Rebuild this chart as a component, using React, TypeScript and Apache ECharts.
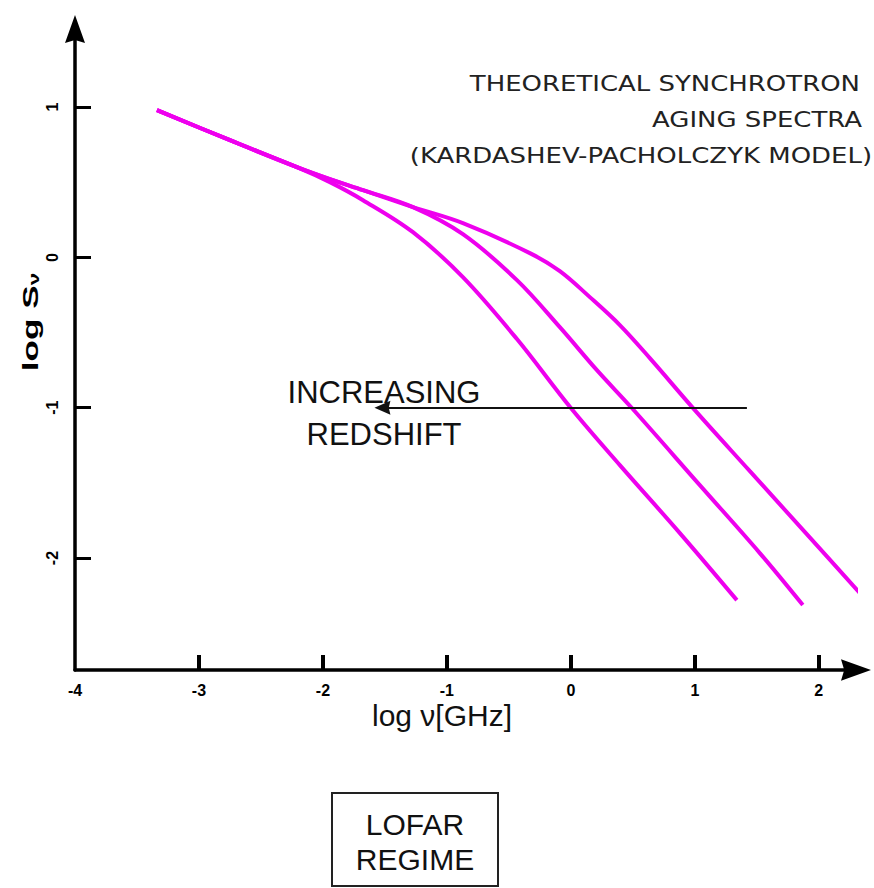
import React, { useEffect, useRef } from "react";
import * as echarts from "echarts";

// ---- data ----
const xLabelValues = [-4, -3, -2, -1, 0, 1, 2];
const xTickValues = [-3, -2, -1, 0, 1, 2];
const yTickValues = [1, 0, -1, -2];

// shared low-frequency power-law part (log nu, log S)
const sharedPart: number[][] = [
  [-3.339, 0.98],
  [-2.75, 0.78],
  [-2.21, 0.601],
];
// part shared by the two higher-break spectra
const sharedAB: number[][] = [
  [-1.944, 0.521],
  [-1.677, 0.448],
  [-1.274, 0.335],
];
const spectrumA: number[][] = [
  [-0.871, 0.228],
  [-0.331, 0.029],
  [-0.089, -0.091],
  [0.153, -0.264],
  [0.395, -0.45],
  [0.637, -0.67],
  [1.0, -1.016],
  [1.444, -1.422],
  [1.903, -1.841],
  [2.331, -2.233],
];
const spectrumB: number[][] = [
  [-0.871, 0.155],
  [-0.435, -0.151],
  [-0.089, -0.464],
  [0.21, -0.75],
  [0.492, -1.002],
  [1.04, -1.515],
  [1.524, -1.967],
  [1.871, -2.313],
];
const spectrumC: number[][] = [
  [-1.944, 0.501],
  [-1.677, 0.381],
  [-1.274, 0.168],
  [-0.871, -0.131],
  [-0.435, -0.543],
  [0.0, -1.002],
  [0.395, -1.382],
  [0.879, -1.834],
  [1.339, -2.28],
];
const redshiftArrow: number[][] = [
  [1.42, -1.0],
  [-1.52, -1.0],
];
const titleLines = [
  "THEORETICAL SYNCHROTRON",
  "AGING SPECTRA",
  "(KARDASHEV-PACHOLCZYK MODEL)",
];
const arrowText = ["INCREASING", "REDSHIFT"];
const boxText = ["LOFAR", "REGIME"];
const xName = "log \u03bd[GHz]";

const ARROW_PATH = "path://M5,0 L10,14 L5,12.5 L0,14 Z";
const CURVE_COLOR = "#EE00EE";

export default function App() {
  const ref = useRef<HTMLDivElement>(null);
  useEffect(() => {
    document.body.style.margin = "0";
    const chart = echarts.init(ref.current!, undefined, { renderer: "svg" });
    const curveSeries = (name: string, pts: number[][]) => ({
      name,
      type: "line",
      data: pts,
      smooth: 0.35,
      symbol: "none",
      clip: false,
      lineStyle: { color: CURVE_COLOR, width: 4 },
    });
    const titleRight = [860, 862, 872];
    const titleY = [84, 120, 156];
    chart.setOption({
      animation: false,
      backgroundColor: "#ffffff",
      grid: {
        left: 75,
        top: 29,
        width: 781,
        height: 641,
        containLabel: false,
        outerBoundsMode: "none",
      },
      xAxis: {
        type: "value",
        min: -4,
        max: 2.3,
        splitLine: { show: false },
        axisLine: {
          onZero: false,
          lineStyle: { color: "#000", width: 3.5 },
          symbol: ["none", ARROW_PATH],
          symbolSize: [27, 30],
        },
        axisTick: {
          inside: true,
          length: 15,
          customValues: xTickValues,
          lineStyle: { color: "#000", width: 4 },
        },
        axisLabel: {
          customValues: xLabelValues,
          margin: 12,
          color: "#000",
          fontFamily: "Liberation Sans",
          fontWeight: "bold",
          fontSize: 16,
        },
      },
      yAxis: {
        type: "value",
        min: -2.745,
        max: 1.52,
        splitLine: { show: false },
        axisLine: {
          onZero: false,
          lineStyle: { color: "#000", width: 3.5 },
          symbol: ["none", ARROW_PATH],
          symbolSize: [28, 28],
        },
        axisTick: {
          inside: true,
          length: 16,
          customValues: yTickValues,
          lineStyle: { color: "#000", width: 3 },
        },
        axisLabel: {
          customValues: yTickValues,
          rotate: 90,
          margin: 15,
          color: "#000",
          fontFamily: "Liberation Sans",
          fontWeight: "bold",
          fontSize: 16,
        },
      },
      series: [
        curveSeries("A", [...sharedPart, ...sharedAB, ...spectrumA]),
        curveSeries("B", [...sharedPart, ...sharedAB, ...spectrumB]),
        {
          ...curveSeries("C", [...sharedPart, ...spectrumC]),
          markLine: {
            silent: true,
            symbol: ["none", ARROW_PATH],
            symbolSize: [14, 16],
            label: { show: false },
            lineStyle: { color: "#111", width: 2, type: "solid" },
            data: [
              [
                { coord: redshiftArrow[0] },
                { coord: redshiftArrow[1] },
              ],
            ],
          },
        },
      ],
      graphic: [
        ...titleLines.map((t, i) => ({
          type: "text",
          x: titleRight[i],
          y: titleY[i],
          scaleX: 1.18,
          style: {
            text: t,
            fill: "#222",
            font: "22px 'DejaVu Sans'",
            align: "right",
            verticalAlign: "middle",
          },
        })),
        ...arrowText.map((t, i) => ({
          type: "text",
          x: 384,
          y: [392, 434][i],
          style: {
            text: t,
            fill: "#111",
            font: "31px 'Liberation Sans'",
            align: "center",
            verticalAlign: "middle",
          },
        })),
        {
          type: "text",
          x: 442,
          y: 715,
          style: {
            text: xName,
            fill: "#111",
            font: "30px 'Liberation Sans'",
            align: "center",
            verticalAlign: "middle",
          },
        },
        {
          type: "text",
          x: 30,
          y: 322,
          rotation: Math.PI / 2,
          scaleX: 1.6,
          style: {
            text: "log S{sub|\u03bd}",
            fill: "#000",
            font: "bold 22px 'Liberation Sans'",
            align: "center",
            verticalAlign: "middle",
            rich: {
              sub: {
                fontSize: 14,
                fontWeight: "bold",
                fontFamily: "Liberation Sans",
                verticalAlign: "bottom",
                fill: "#000",
              },
            },
          },
        },
        {
          type: "rect",
          shape: { x: 332, y: 793, width: 166, height: 93 },
          style: { fill: "none", stroke: "#222", lineWidth: 2 },
        },
        ...boxText.map((t, i) => ({
          type: "text",
          x: 415,
          y: [824, 859][i],
          style: {
            text: t,
            fill: "#111",
            font: "30px 'Liberation Sans'",
            align: "center",
            verticalAlign: "middle",
          },
        })),
      ],
    });
    return () => chart.dispose();
  }, []);
  return <div ref={ref} style={{ width: 874, height: 888 }} />;
}
